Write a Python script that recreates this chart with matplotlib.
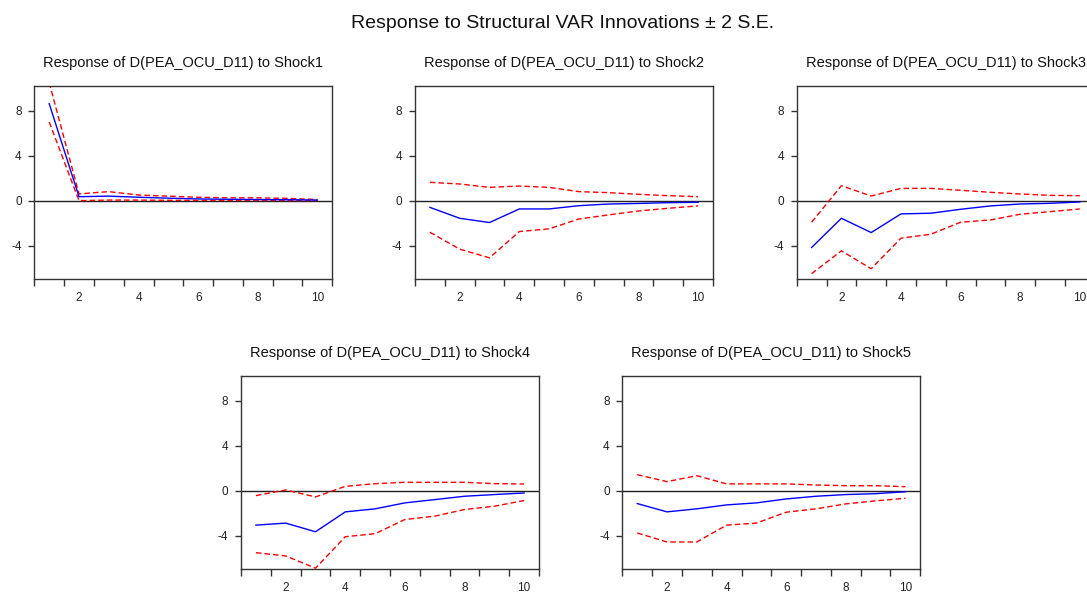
import matplotlib
matplotlib.use("Agg")
import matplotlib.pyplot as plt
import numpy as np

plt.rcParams['font.family'] = ['Liberation Sans', 'DejaVu Sans']

periods = [1, 2, 3, 4, 5, 6, 7, 8, 9, 10]
titles = [
    "Response of D(PEA_OCU_D11) to Shock1",
    "Response of D(PEA_OCU_D11) to Shock2",
    "Response of D(PEA_OCU_D11) to Shock3",
    "Response of D(PEA_OCU_D11) to Shock4",
    "Response of D(PEA_OCU_D11) to Shock5",
]
suptitle = "Response to Structural VAR Innovations \u00b1 2 S.E."

resp_shock1 = [8.63, 0.35, 0.40, 0.30, 0.22, 0.15, 0.12, 0.10, 0.08, 0.05]
upper_shock1 = [10.5, 0.60, 0.80, 0.50, 0.40, 0.30, 0.25, 0.25, 0.20, 0.10]
lower_shock1 = [7.00, 0.00, 0.05, 0.05, 0.03, 0.02, 0.02, 0.02, 0.01, 0.01]

resp_shock2 = [-0.60, -1.57, -1.95, -0.74, -0.74, -0.45, -0.30, -0.25, -0.18, -0.15]
upper_shock2 = [1.63, 1.48, 1.18, 1.30, 1.18, 0.80, 0.71, 0.56, 0.44, 0.35]
lower_shock2 = [-2.81, -4.32, -5.09, -2.75, -2.51, -1.63, -1.27, -0.92, -0.68, -0.47]

resp_shock3 = [-4.17, -1.57, -2.84, -1.18, -1.12, -0.77, -0.47, -0.30, -0.24, -0.12]
upper_shock3 = [-1.92, 1.33, 0.41, 1.09, 1.09, 0.92, 0.74, 0.59, 0.47, 0.44]
lower_shock3 = [-6.50, -4.47, -6.06, -3.34, -2.99, -1.92, -1.72, -1.21, -0.98, -0.74]

resp_shock4 = [-3.07, -2.89, -3.66, -1.89, -1.62, -1.09, -0.80, -0.50, -0.35, -0.21]
upper_shock4 = [-0.44, 0.06, -0.56, 0.38, 0.62, 0.74, 0.74, 0.74, 0.62, 0.59]
lower_shock4 = [-5.52, -5.81, -6.90, -4.10, -3.83, -2.57, -2.27, -1.68, -1.39, -0.88]

resp_shock5 = [-1.15, -1.89, -1.62, -1.27, -1.09, -0.74, -0.50, -0.35, -0.27, -0.10]
upper_shock5 = [1.42, 0.80, 1.33, 0.60, 0.60, 0.60, 0.50, 0.44, 0.44, 0.35]
lower_shock5 = [-3.77, -4.57, -4.57, -3.07, -2.89, -1.92, -1.62, -1.18, -0.91, -0.68]

y_ticks = [-4, 0, 4, 8]
x_labels = [2, 4, 6, 8, 10]

series = [
    (resp_shock1, upper_shock1, lower_shock1),
    (resp_shock2, upper_shock2, lower_shock2),
    (resp_shock3, upper_shock3, lower_shock3),
    (resp_shock4, upper_shock4, lower_shock4),
    (resp_shock5, upper_shock5, lower_shock5),
]

W, H = 1087, 593
fig = plt.figure(figsize=(W / 100, H / 100), dpi=100)

# axes boxes in pixels: left, top, width, height
boxes = [
    (34.3, 86, 298, 193.3),
    (415, 86, 298, 193.3),
    (796.7, 86, 298, 193.3),
    (241, 376, 298, 193.3),
    (622.3, 376, 298, 193.3),
]

edge = '#333333'
for (l, t, w, h), title, (r, up, lo) in zip(boxes, titles, series):
    ax = fig.add_axes([l / W, 1 - (t + h) / H, w / W, h / H])
    ax.set_xlim(0.5, 10.5)
    ax.set_ylim(-7.0, 10.2)
    ax.axhline(0, color='#222222', lw=1.0, zorder=1)
    ax.plot(periods, up, color='#ff0000', lw=1.0, dashes=(4, 2.2), zorder=2)
    ax.plot(periods, lo, color='#ff0000', lw=1.0, dashes=(4, 2.2), zorder=2)
    ax.plot(periods, r, color='#0000ff', lw=1.0, zorder=3)
    for s in ax.spines.values():
        s.set_color(edge)
        s.set_linewidth(1.0)
    ax.set_yticks(y_ticks)
    ax.set_yticklabels([str(v) for v in y_ticks])
    ax.set_xticks(np.arange(0.5, 11.0, 1.0))
    ax.set_xticklabels([])
    ax.set_xticks(x_labels, minor=True)
    ax.set_xticklabels([str(v) for v in x_labels], minor=True)
    ax.tick_params(axis='x', which='major', direction='out', length=5, width=1.0, color=edge)
    ax.tick_params(axis='x', which='minor', length=0, pad=9, labelsize=8.5, labelcolor='#222222')
    ax.tick_params(axis='y', direction='out', length=4, width=1.0, color=edge,
                   pad=5, labelsize=8.5, labelcolor='#222222')
    ax.set_title(title, fontsize=10.5, pad=14, color='#111111')

fig.text(563 / W, 1 - 23 / H, suptitle, ha='center', va='center', fontsize=14, color='#111111')

fig.savefig('out.png', dpi=100)
